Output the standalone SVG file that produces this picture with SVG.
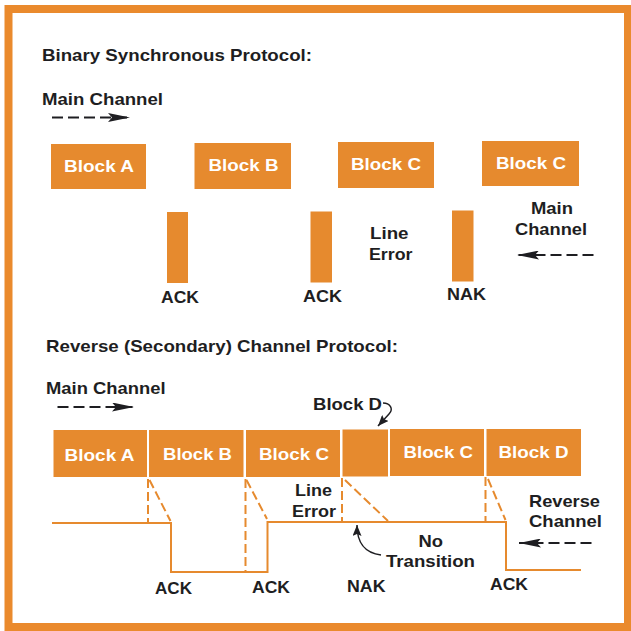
<svg xmlns="http://www.w3.org/2000/svg" width="631" height="631" viewBox="0 0 631 631">
  <style>
    .frame { fill: none; stroke: #EA8A2D; stroke-width: 8; }
    .blk { fill: #E68A2E; }
    .lbl { font-family: "Liberation Sans", Arial, sans-serif; font-weight: bold; font-size: 17px; fill: #1e1e22; }
    .wl { font-family: "Liberation Sans", Arial, sans-serif; font-weight: bold; font-size: 17px; fill: #ffffff; }
    .arr { fill: none; stroke: #1e1e22; stroke-width: 1.8; stroke-dasharray: 11 5; marker-end: url(#ah); }
    .curve { fill: none; stroke: #1e1e22; stroke-width: 1.5; marker-end: url(#ah2); }
    .sig { fill: none; stroke: #E68A2E; stroke-width: 2; }
    .dash { fill: none; stroke: #E68A2E; stroke-width: 2; stroke-dasharray: 9 4; }
  </style>
  <defs>
    <marker id="ah" viewBox="0 0 22 9" markerWidth="22" markerHeight="9" markerUnits="userSpaceOnUse" refX="22" refY="4.5" orient="auto">
      <path d="M0,0 L22,4.5 L0,9 L4,4.5 Z" fill="#1e1e22"/>
    </marker>
    <marker id="ah2" viewBox="0 0 11 9" markerWidth="11" markerHeight="9" markerUnits="userSpaceOnUse" refX="11" refY="4.5" orient="auto">
      <path d="M0,0 L11,4.5 L0,9 L2,4.5 Z" fill="#1e1e22"/>
    </marker>
  </defs>

  <rect class="frame" x="8.5" y="9" width="619.5" height="618"/>

  <!-- Binary Synchronous Protocol section -->
  <text class="lbl" x="42" y="61" textLength="270" lengthAdjust="spacingAndGlyphs">Binary Synchronous Protocol:</text>
  <text class="lbl" x="42" y="105" textLength="121" lengthAdjust="spacingAndGlyphs">Main Channel</text>

  <g id="top-blockA"><rect class="blk" x="51" y="144" width="95" height="45"/><text class="wl" x="64" y="172" textLength="70" lengthAdjust="spacingAndGlyphs">Block A</text></g>
  <g id="top-blockB"><rect class="blk" x="194.5" y="143" width="96.5" height="46"/><text class="wl" x="208.5" y="171" textLength="70" lengthAdjust="spacingAndGlyphs">Block B</text></g>
  <g id="top-blockC1"><rect class="blk" x="338" y="142" width="96" height="46"/><text class="wl" x="351" y="169.5" textLength="70" lengthAdjust="spacingAndGlyphs">Block C</text></g>
  <g id="top-blockC2"><rect class="blk" x="482" y="141" width="97" height="45"/><text class="wl" x="496" y="168.5" textLength="70" lengthAdjust="spacingAndGlyphs">Block C</text></g>

  <g id="top-ack1"><rect class="blk" x="167" y="212" width="21" height="71"/><text class="lbl" x="161" y="303" textLength="38" lengthAdjust="spacingAndGlyphs">ACK</text></g>
  <g id="top-ack2"><rect class="blk" x="310.5" y="211.5" width="21.5" height="71"/><text class="lbl" x="303" y="302" textLength="39" lengthAdjust="spacingAndGlyphs">ACK</text></g>
  <g id="top-nak"><rect class="blk" x="452" y="210.5" width="21.5" height="71"/><text class="lbl" x="447" y="300" textLength="39" lengthAdjust="spacingAndGlyphs">NAK</text></g>

  <text class="lbl" x="370" y="239" textLength="38.5" lengthAdjust="spacingAndGlyphs">Line</text>
  <text class="lbl" x="369" y="260" textLength="43.5" lengthAdjust="spacingAndGlyphs">Error</text>
  <text class="lbl" x="531" y="214" textLength="42" lengthAdjust="spacingAndGlyphs">Main</text>
  <text class="lbl" x="515" y="235" textLength="72" lengthAdjust="spacingAndGlyphs">Channel</text>

  <!-- Reverse (Secondary) Channel Protocol section -->
  <text class="lbl" x="46" y="352" textLength="352" lengthAdjust="spacingAndGlyphs">Reverse (Secondary) Channel Protocol:</text>
  <text class="lbl" x="46" y="394" textLength="119.5" lengthAdjust="spacingAndGlyphs">Main Channel</text>
  <text class="lbl" x="313" y="410" textLength="69" lengthAdjust="spacingAndGlyphs">Block D</text>

  <g id="bot-blockA"><rect class="blk" x="53.5" y="430" width="93.5" height="47"/><text class="wl" x="64.5" y="460.5" textLength="70" lengthAdjust="spacingAndGlyphs">Block A</text></g>
  <g id="bot-blockB"><rect class="blk" x="149" y="430" width="94.5" height="47"/><text class="wl" x="163" y="460" textLength="69" lengthAdjust="spacingAndGlyphs">Block B</text></g>
  <g id="bot-blockC1"><rect class="blk" x="246" y="430" width="94" height="47"/><text class="wl" x="259" y="459.5" textLength="70" lengthAdjust="spacingAndGlyphs">Block C</text></g>
  <g id="bot-blockD-lost"><rect class="blk" x="342.5" y="429.5" width="45.5" height="47"/></g>
  <g id="bot-blockC2"><rect class="blk" x="390" y="429" width="94" height="47"/><text class="wl" x="403.5" y="458" textLength="69.5" lengthAdjust="spacingAndGlyphs">Block C</text></g>
  <g id="bot-blockD"><rect class="blk" x="486.5" y="429" width="94.5" height="47"/><text class="wl" x="498.5" y="458" textLength="70" lengthAdjust="spacingAndGlyphs">Block D</text></g>

  <text class="lbl" x="295" y="496" textLength="37" lengthAdjust="spacingAndGlyphs">Line</text>
  <text class="lbl" x="292" y="517" textLength="44" lengthAdjust="spacingAndGlyphs">Error</text>
  <text class="lbl" x="529" y="507" textLength="71" lengthAdjust="spacingAndGlyphs">Reverse</text>
  <text class="lbl" x="529" y="527" textLength="73" lengthAdjust="spacingAndGlyphs">Channel</text>
  <text class="lbl" x="418.5" y="547" textLength="24.5" lengthAdjust="spacingAndGlyphs">No</text>
  <text class="lbl" x="386" y="567" textLength="89" lengthAdjust="spacingAndGlyphs">Transition</text>

  <text class="lbl" x="155" y="594" textLength="37" lengthAdjust="spacingAndGlyphs">ACK</text>
  <text class="lbl" x="252" y="593" textLength="38" lengthAdjust="spacingAndGlyphs">ACK</text>
  <text class="lbl" x="347" y="592" textLength="38.5" lengthAdjust="spacingAndGlyphs">NAK</text>
  <text class="lbl" x="490" y="590" textLength="38" lengthAdjust="spacingAndGlyphs">ACK</text>

  <g id="connectors">
    <line class="arr" x1="52" y1="117.5" x2="130" y2="117.5"/>
    <line class="arr" x1="593.5" y1="255" x2="517" y2="255"/>
    <line class="arr" x1="57.5" y1="407" x2="134" y2="407"/>
    <line class="arr" x1="591.5" y1="543" x2="519" y2="543"/>
    <path class="curve" d="M383,403 C390,403 394,409 389,414 L378,426"/>
    <path class="curve" d="M381,555 C366,553 357,545 357,525"/>
    <path class="sig" d="M52,523 H171 V572 H267.5 V522 H506 V570 H581"/>
    <line class="dash" x1="148" y1="479" x2="148" y2="522"/>
    <line class="dash" x1="149.5" y1="480" x2="170.5" y2="521"/>
    <line class="dash" x1="245.5" y1="479" x2="245.5" y2="571"/>
    <line class="dash" x1="246.5" y1="480" x2="267" y2="519"/>
    <line class="dash" x1="342" y1="478" x2="342" y2="521"/>
    <line class="dash" x1="345" y1="480" x2="388" y2="521"/>
    <line class="dash" x1="485.5" y1="477" x2="485.5" y2="521"/>
    <line class="dash" x1="488" y1="479" x2="505.5" y2="520"/>
  </g>
</svg>
